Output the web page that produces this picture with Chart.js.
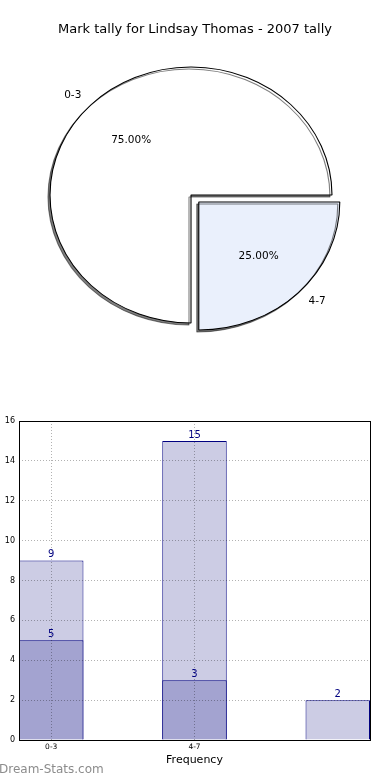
<!DOCTYPE html>
<html>
<head>
<meta charset="utf-8">
<script src="https://cdn.jsdelivr.net/npm/chart.js@4"></script>
<style>
  body { margin: 0; background: #fff; }
  #wrap { position: relative; width: 390px; height: 780px; overflow: hidden; }
  #pieChart { position: absolute; left: 0; top: 0; }
  #barChart { position: absolute; left: 0; top: 390px; }
  #mark { position: absolute; left: -1px; top: 762px; font: 12px "DejaVu Sans", sans-serif; color: #8c8c8c; }
</style>
</head>
<body>
<div id="wrap">
  <canvas id="pieChart" width="390" height="390"></canvas>
  <canvas id="barChart" width="390" height="390"></canvas>
  <div id="mark">Dream-Stats.com</div>
</div>
<script>
// pie data
const pieTitle = 'Mark tally for Lindsay Thomas - 2007 tally';
const pieLabels = ['0-3', '4-7'];
const pieValues = [75, 25];
const pieColors = ['#ffffff', '#eaf0fc'];

// bar data
const barCats = ['0-3', '4-7', ''];
const totalCounts = [9, 15, 2];
const subCounts = [5, 3];

const font = '"DejaVu Sans", sans-serif';
const stretchX = 141 / 128;

// same shift chart.js applies to an exploded arc (offset / 4, more for small slices)
function arcShift(a, off) {
    const base = (off || 0) / 4;
    const circ = a.endAngle - a.startAngle;
    return base * (2 - Math.sin(Math.min(Math.PI, circ)));
}

// matplotlib pies come out slightly oval here, so stretch the arcs and add the shadow
const pieLook = {
    id: 'pieLook',
    beforeDatasetsDraw(chart) {
        const ctx = chart.ctx;
        const a = chart.getDatasetMeta(0).data[0];
        ctx.save();
        ctx.translate(a.x, a.y);
        ctx.scale(stretchX, 1);
        ctx.translate(-a.x, -a.y);
        ctx.shadowColor = 'rgba(0,0,0,0.5)';
        ctx.shadowOffsetX = -2;
        ctx.shadowOffsetY = 2;
        ctx.shadowBlur = 0;
    },
    afterDatasetsDraw(chart) {
        const ctx = chart.ctx;
        ctx.restore();
        const offs = chart.data.datasets[0].offset;
        const total = pieValues.reduce((s, v) => s + v, 0);
        ctx.save();
        ctx.font = '10.5px ' + font;
        ctx.fillStyle = '#000';
        ctx.textBaseline = 'middle';
        chart.getDatasetMeta(0).data.forEach((a, i) => {
            const mid = (a.startAngle + a.endAngle) / 2;
            const c = Math.cos(mid), s = Math.sin(mid);
            const r = a.outerRadius;
            const sh = arcShift(a, offs[i]);
            const ox = a.x + c * sh * stretchX, oy = a.y + s * sh;
            ctx.textAlign = 'center';
            ctx.fillText((pieValues[i] / total * 100).toFixed(2) + '%', ox + c * r * 0.6 * stretchX, oy + s * r * 0.6);
            ctx.textAlign = c < 0 ? 'right' : 'left';
            ctx.fillText(pieLabels[i], ox + c * r * 1.1 * stretchX, oy + s * r * 1.1);
        });
        ctx.font = '13px ' + font;
        ctx.textAlign = 'center';
        ctx.fillText(pieTitle, 195, 30);
        ctx.restore();
    }
};

new Chart(document.getElementById('pieChart'), {
    type: 'pie',
    data: {
        labels: pieLabels,
        datasets: [{
            data: pieValues,
            backgroundColor: pieColors,
            borderColor: '#000',
            borderWidth: 1,
            offset: [0, 40],
            radius: 128
        }]
    },
    options: {
        responsive: false,
        animation: false,
        devicePixelRatio: 1,
        rotation: 180,
        layout: { padding: { left: 0, right: 8, top: 0, bottom: 0 } },
        plugins: { legend: { display: false }, tooltip: { enabled: false } }
    },
    plugins: [pieLook]
});

// numbers over the bars plus the black frame round the plot
const barLook = {
    id: 'barLook',
    afterDraw(chart) {
        const ctx = chart.ctx;
        const ca = chart.chartArea;
        ctx.save();
        ctx.strokeStyle = '#000';
        ctx.lineWidth = 1;
        ctx.strokeRect(Math.round(ca.left) + 0.5, Math.round(ca.top) + 0.5, Math.round(ca.right - ca.left), Math.round(ca.bottom - ca.top));
        ctx.font = '10px ' + font;
        ctx.fillStyle = '#000080';
        ctx.textAlign = 'center';
        ctx.textBaseline = 'bottom';
        chart.data.datasets.forEach((ds, di) => {
            chart.getDatasetMeta(di).data.forEach((bar, i) => {
                ctx.fillText(String(ds.data[i].y), bar.x, bar.y - 1);
            });
        });
        ctx.restore();
    }
};

new Chart(document.getElementById('barChart'), {
    type: 'bar',
    data: {
        datasets: [{
            data: totalCounts.map((v, i) => ({ x: i, y: v })),
            backgroundColor: '#ccccE4',
            borderColor: '#000080',
            borderWidth: 1,
            order: 2
        }, {
            data: subCounts.map((v, i) => ({ x: i, y: v })),
            backgroundColor: '#a3a3d0',
            borderColor: '#000080',
            borderWidth: 1,
            order: 1
        }]
    },
    options: {
        responsive: false,
        animation: false,
        devicePixelRatio: 1,
        grouped: false,
        barPercentage: 0.45,
        categoryPercentage: 1,
        layout: { padding: { left: 0, right: 20, top: 31, bottom: 0 } },
        plugins: { legend: { display: false }, tooltip: { enabled: false } },
        scales: {
            x: {
                type: 'linear',
                min: -0.225,
                max: 2.225,
                offset: false,
                afterBuildTicks: s => { s.ticks = [0, 1].map(v => ({ value: v })); },
                afterFit: s => { s.height = 40; },
                ticks: {
                    callback: v => barCats[v],
                    font: { family: font, size: 7.5 },
                    color: '#000',
                    padding: 3,
                    maxRotation: 0
                },
                grid: { color: 'rgba(0,0,0,0.3)', drawTicks: false, offset: false, z: 1 },
                border: { display: false, dash: [1, 2] },
                title: {
                    display: true,
                    text: 'Frequency',
                    font: { family: font, size: 11 },
                    color: '#000',
                    padding: { top: 0, bottom: 13 }
                }
            },
            y: {
                min: 0,
                max: 16,
                afterFit: s => { s.width = 19; },
                ticks: {
                    stepSize: 2,
                    font: { family: font, size: 8 },
                    color: '#000',
                    padding: 4
                },
                grid: { color: 'rgba(0,0,0,0.3)', drawTicks: false, z: 1 },
                border: { display: false, dash: [1, 2] }
            }
        }
    },
    plugins: [barLook]
});
</script>
</body>
</html>
